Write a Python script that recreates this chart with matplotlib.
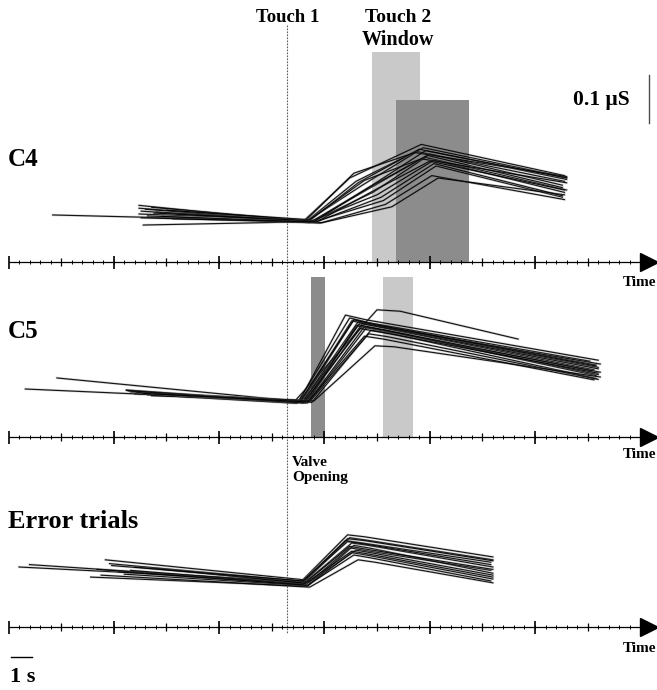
import numpy as np
import matplotlib
matplotlib.use("Agg")
import matplotlib.pyplot as plt

# figure is laid out in pixels, data in seconds / microsiemens
W, H = 657, 690
PX_PER_S = 21.06
PX_PER_US = 480.0
X0_PX = 8.5

touch1_t = 13.22

# shaded windows (start, end in s; height in uS)
c4_touch2_window = [17.26, 19.54]
c4_touch2_window_top = 0.4375
c4_response_window = [18.40, 21.87]
c4_response_window_top = 0.3375
c5_valve_window = [14.36, 15.03]
c5_touch2_window = [17.78, 19.21]
c5_window_top = 0.333

# C4 traces: start, onset, shoulder, peak, end
c4_t0 = [2.1, 6.2, 6.2, 6.3, 6.4, 6.2, 6.5, 7.0, 7.3, 6.8, 8.0, 6.3, 7.5, 6.6, 6.9, 7.8]
c4_v0 = [0.098, 0.118, 0.112, 0.106, 0.077, 0.100, 0.110, 0.104, 0.095, 0.114, 0.100, 0.092, 0.108, 0.096, 0.102, 0.090]
c4_on = [14.0, 14.1, 14.2, 14.3, 14.4, 14.5, 14.2, 14.6, 14.8, 14.1, 14.4, 14.9, 14.3, 14.6, 14.7, 14.5]
c4_vb = [0.085, 0.083, 0.086, 0.082, 0.084, 0.087, 0.083, 0.085, 0.081, 0.086, 0.084, 0.082, 0.088, 0.083, 0.085, 0.084]
c4_tm = [16.2, 16.5, 16.8, 17.0, 17.3, 17.5, 16.6, 17.8, 17.9, 16.4, 17.1, 18.2, 16.9, 17.4, 17.7, 17.2]
c4_vm = [0.175, 0.168, 0.160, 0.150, 0.145, 0.140, 0.165, 0.128, 0.120, 0.185, 0.155, 0.115, 0.170, 0.150, 0.135, 0.158]
c4_tp = [19.6, 19.7, 19.4, 20.0, 19.8, 20.2, 19.5, 20.3, 20.1, 19.3, 19.9, 20.4, 19.6, 20.0, 20.2, 19.8]
c4_vp = [0.245, 0.238, 0.230, 0.225, 0.218, 0.212, 0.235, 0.200, 0.180, 0.228, 0.222, 0.175, 0.215, 0.210, 0.205, 0.232]
c4_te = [26.4, 26.5, 26.4, 26.3, 26.5, 26.4, 26.5, 26.3, 26.4, 26.5, 26.3, 26.4, 26.5, 26.4, 26.3, 26.5]
c4_ve = [0.180, 0.176, 0.168, 0.160, 0.150, 0.145, 0.172, 0.135, 0.130, 0.178, 0.155, 0.140, 0.165, 0.150, 0.138, 0.175]

# C5 traces: start, onset, peak, end of plateau, end
c5_t0 = [0.8, 2.3, 5.6, 5.8, 6.0, 5.7, 6.3, 6.6, 7.0, 5.9, 6.8, 7.4, 6.1, 8.0, 6.4, 7.7, 5.6, 6.9]
c5_v0 = [0.100, 0.123, 0.098, 0.094, 0.090, 0.096, 0.092, 0.088, 0.090, 0.095, 0.086, 0.089, 0.093, 0.087, 0.091, 0.088, 0.097, 0.090]
c5_on = [13.6, 13.8, 13.9, 14.0, 14.1, 14.2, 14.3, 13.7, 14.0, 14.4, 13.9, 14.2, 14.1, 14.3, 13.8, 14.5, 14.0, 14.2]
c5_vb = [0.075, 0.074, 0.072, 0.076, 0.071, 0.073, 0.075, 0.070, 0.074, 0.072, 0.076, 0.071, 0.073, 0.074, 0.072, 0.075, 0.071, 0.073]
c5_tp = [17.5, 16.0, 16.4, 16.6, 16.8, 16.5, 17.0, 16.2, 16.7, 17.2, 16.3, 16.9, 16.6, 17.1, 16.4, 17.4, 16.7, 16.9]
c5_vp = [0.265, 0.254, 0.245, 0.240, 0.236, 0.232, 0.228, 0.248, 0.238, 0.222, 0.242, 0.230, 0.234, 0.215, 0.244, 0.190, 0.226, 0.210]
c5_tq = [18.6, 17.0, 17.3, 17.5, 17.7, 17.4, 17.9, 17.1, 17.6, 18.1, 17.2, 17.8, 17.5, 18.0, 17.3, 18.3, 17.6, 17.8]
c5_vq = [0.262, 0.244, 0.236, 0.232, 0.228, 0.224, 0.222, 0.238, 0.230, 0.216, 0.233, 0.223, 0.226, 0.209, 0.235, 0.188, 0.219, 0.204]
c5_te = [24.2, 28.0, 27.9, 28.0, 27.8, 28.1, 27.9, 27.6, 28.0, 27.9, 28.1, 28.0, 27.7, 28.0, 27.9, 28.1, 28.0, 27.8]
c5_ve = [0.204, 0.160, 0.150, 0.145, 0.140, 0.135, 0.128, 0.158, 0.142, 0.122, 0.152, 0.130, 0.138, 0.120, 0.148, 0.125, 0.133, 0.119]

# error trials: start, onset, peak, end of plateau, end
err_t0 = [0.5, 1.0, 4.6, 3.9, 4.2, 4.8, 5.2, 5.5, 6.0, 4.4, 5.8, 6.5, 7.0, 4.9]
err_v0 = [0.125, 0.130, 0.140, 0.104, 0.120, 0.132, 0.115, 0.110, 0.125, 0.108, 0.118, 0.112, 0.122, 0.128]
err_on = [13.9, 14.0, 14.1, 14.2, 14.0, 14.3, 14.1, 14.2, 13.9, 14.3, 14.0, 14.2, 14.1, 14.0]
err_vb = [0.095, 0.092, 0.098, 0.085, 0.090, 0.094, 0.088, 0.086, 0.093, 0.083, 0.089, 0.087, 0.091, 0.096]
err_tp = [16.1, 16.2, 16.0, 16.4, 16.3, 16.2, 16.5, 16.3, 16.1, 16.6, 16.2, 16.4, 16.3, 16.1]
err_vp = [0.192, 0.186, 0.180, 0.170, 0.175, 0.165, 0.160, 0.155, 0.178, 0.140, 0.168, 0.150, 0.158, 0.184]
err_tq = [16.9, 17.0, 16.8, 17.2, 17.1, 17.0, 17.3, 17.1, 16.9, 17.4, 17.0, 17.2, 17.1, 16.9]
err_vq = [0.188, 0.181, 0.175, 0.164, 0.170, 0.159, 0.154, 0.149, 0.173, 0.135, 0.162, 0.144, 0.152, 0.180]
err_te = [23.0, 23.0, 22.9, 23.0, 23.0, 22.9, 23.0, 23.0, 22.9, 23.0, 23.0, 22.9, 23.0, 23.0]
err_ve = [0.146, 0.140, 0.135, 0.112, 0.125, 0.118, 0.108, 0.100, 0.130, 0.092, 0.120, 0.096, 0.104, 0.138]

SERIF = "Liberation Serif"
LIGHT = "#c9c9c9"
DARK = "#8c8c8c"

fig = plt.figure(figsize=(W / 100, H / 100), dpi=100)
t_left = -X0_PX / PX_PER_S
t_right = (W - X0_PX) / PX_PER_S
arrow_t = (648.5 - X0_PX) / PX_PER_S


def add_panel(axis_py, top_py, bot_py):
    ax = fig.add_axes([0, 1 - bot_py / H, 1, (bot_py - top_py) / H])
    ax.set_xlim(t_left, t_right)
    ax.set_ylim((axis_py - bot_py) / PX_PER_US, (axis_py - top_py) / PX_PER_US)
    ax.axis("off")
    return ax


def draw_time_axis(ax):
    p = 1 / PX_PER_US
    ax.plot([0, arrow_t], [0, 0], color="black", lw=0.9, zorder=3)
    ax.vlines(np.arange(0.5, 30, 0.5), -2 * p, 2 * p, color="black", lw=0.7, zorder=3)
    ax.vlines(np.arange(2.5, 28, 5), -4 * p, 4 * p, color="black", lw=0.9, zorder=3)
    ax.vlines(np.arange(0, 26, 5), -6.5 * p, 6.5 * p, color="black", lw=1.2, zorder=3)
    ax.plot([arrow_t], [0], marker=">", ms=13, color="black", zorder=4)


def draw_traces(ax, ts, vs):
    for tt, vv in zip(zip(*ts), zip(*vs)):
        ax.plot(tt, vv, color="0.45", lw=1.8, alpha=0.25, zorder=2)
        ax.plot(tt, vv, color="black", lw=0.85, alpha=0.9, zorder=2)


def window(ax, span, top, color):
    ax.bar(span[0], top, width=span[1] - span[0], align="edge", color=color, zorder=1)


# background axes in pixel rows for the Touch 1 marker
bg = fig.add_axes([0, 0, 1, 1])
bg.set_xlim(t_left, t_right)
bg.set_ylim(H, 0)
bg.axis("off")
bg.vlines(touch1_t, 25, 633, color="0.35", lw=0.8, linestyles=(0, (1.5, 1.2)))

ax1 = add_panel(262, 0, 290)
window(ax1, c4_touch2_window, c4_touch2_window_top, LIGHT)
window(ax1, c4_response_window, c4_response_window_top, DARK)
draw_traces(ax1, [c4_t0, c4_on, c4_tm, c4_tp, c4_te], [c4_v0, c4_vb, c4_vm, c4_vp, c4_ve])
draw_time_axis(ax1)
sb_t = (649 - X0_PX) / PX_PER_S
ax1.plot([sb_t, sb_t], [0.29, 0.39], color="0.3", lw=1.0)

ax2 = add_panel(437, 265, 470)
window(ax2, c5_valve_window, c5_window_top, DARK)
window(ax2, c5_touch2_window, c5_window_top, LIGHT)
draw_traces(ax2, [c5_t0, c5_on, c5_tp, c5_tq, c5_te], [c5_v0, c5_vb, c5_vp, c5_vq, c5_ve])
draw_time_axis(ax2)

ax3 = add_panel(627, 470, 690)
draw_traces(ax3, [err_t0, err_on, err_tp, err_tq, err_te], [err_v0, err_vb, err_vp, err_vq, err_ve])
draw_time_axis(ax3)
ax3.plot([0.12, 1.12], [-0.0625, -0.0625], color="black", lw=1.0)


def ftext(x, y, s, size, ha="left"):
    fig.text(x / W, 1 - y / H, s, fontsize=size, ha=ha, va="center",
             family=[SERIF, "DejaVu Serif"], weight="bold")


ftext(288, 17, "Touch 1", 13.5, ha="center")
ftext(398, 17, "Touch 2", 14, ha="center")
ftext(398, 40, "Window", 14.5, ha="center")
ftext(630, 100, "0.1 \u03bcS", 15.5, ha="right")
ftext(8, 160, "C4", 18)
ftext(8, 332, "C5", 18)
ftext(8, 522, "Error trials", 19)
for y in (283, 455, 648):
    ftext(656, y, "Time", 11, ha="right")
ftext(292, 462, "Valve", 11)
ftext(292, 477, "Opening", 11)
ftext(10, 677, "1 s", 16)

fig.savefig("out.png", dpi=100)
